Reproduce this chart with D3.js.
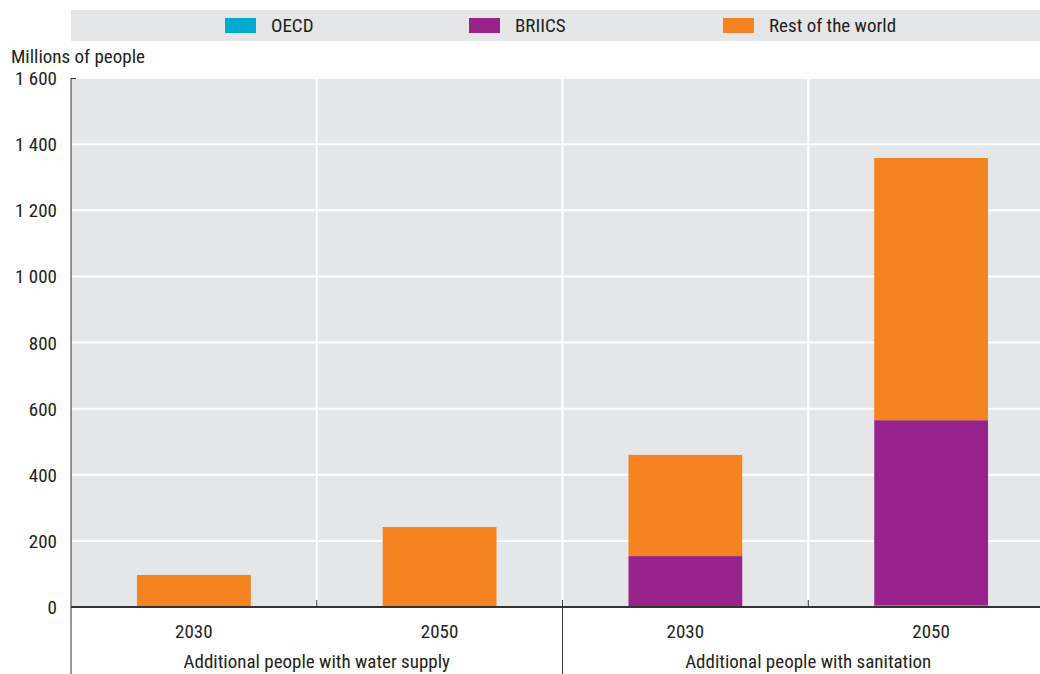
<!DOCTYPE html>
<html><head><meta charset="utf-8">
<script src="https://cdn.jsdelivr.net/npm/d3@7"></script>
<style>body{margin:0;background:#fff;overflow:hidden}svg{display:block}text{font-family:"Liberation Sans Narrow","Arial Narrow","Roboto Condensed","Liberation Sans",sans-serif;fill:#231f20}</style>
</head><body>
<script>
const categories = ["water-2030","water-2050","san-2030","san-2050"];
const yearLabels = ["2030","2050","2030","2050"];
const groupLabels = ["Additional people with water supply","Additional people with sanitation"];
const seriesNames = ["OECD","BRIICS","Rest of the world"];
const oecd = [0,0,0,5];
const briics = [0,0,154,560];
const rest = [97,242,306,793];
const yTicks = [0,200,400,600,800,1000,1200,1400,1600];
const colors = ["#00a9ce","#99238c","#f48320"];

const W=1040,H=674, m={l:71,t:78,b:67};
const FS=19;
const svg=d3.select("body").append("svg").attr("width",W).attr("height",H);
const x=d3.scaleBand().domain(categories).range([m.l,1054]).paddingInner(0).paddingOuter(0);
const y=d3.scaleLinear().domain([0,1600]).range([H-m.b,m.t]);
const fmt=v=>d3.format(",")(v).replace(/,/g," ");

svg.append("rect").attr("x",m.l).attr("y",m.t).attr("width",W-m.l).attr("height",y(0)-m.t).attr("fill","#e5e6e8");
svg.append("rect").attr("x",71).attr("y",10).attr("width",969).attr("height",31).attr("fill","#e5e6e8");
const lx=[225,469,723];
seriesNames.forEach((n,i)=>{
  svg.append("rect").attr("x",lx[i]).attr("y",18).attr("width",31).attr("height",15).attr("fill",colors[i]);
  svg.append("text").attr("x",lx[i]+46).attr("y",32).attr("font-size",FS).text(n);
});
svg.append("g").selectAll("line").data(yTicks.slice(1)).join("line")
  .attr("x1",m.l).attr("x2",W).attr("y1",d=>y(d)).attr("y2",d=>y(d)).attr("stroke","#fff").attr("stroke-width",2);
svg.append("g").selectAll("line").data(categories.slice(1)).join("line")
  .attr("x1",d=>x(d)).attr("x2",d=>x(d)).attr("y1",m.t).attr("y2",y(0)).attr("stroke","#fff").attr("stroke-width",2);
svg.append("g").selectAll("text").data(yTicks).join("text")
  .attr("x",57).attr("y",d=>y(d)+7).attr("text-anchor","end").attr("font-size",FS).text(fmt);
svg.append("text").attr("x",11).attr("y",63).attr("font-size",FS).text("Millions of people");
const data=categories.map((c,i)=>({c,OECD:oecd[i],BRIICS:briics[i],"Rest of the world":rest[i]}));
const stack=d3.stack().keys(seriesNames)(data);
const bw=x.bandwidth()*0.463;
svg.append("g").selectAll("g").data(stack).join("g").attr("fill",(d,i)=>colors[i])
  .selectAll("rect").data(d=>d).join("rect")
  .attr("x",d=>x(d.data.c)+(x.bandwidth()-bw)/2).attr("width",bw)
  .attr("y",d=>y(d[1])).attr("height",d=>y(d[0])-y(d[1]));
svg.append("line").attr("x1",m.l).attr("x2",W).attr("y1",y(0)).attr("y2",y(0)).attr("stroke","#333").attr("stroke-width",2);
svg.append("line").attr("x1",m.l).attr("x2",m.l).attr("y1",m.t).attr("y2",H).attr("stroke","#333").attr("stroke-width",1);
svg.append("line").attr("x1",m.l).attr("x2",m.l+5).attr("y1",m.t+0.5).attr("y2",m.t+0.5).attr("stroke","#333").attr("stroke-width",1);
[1,3].forEach(i=>svg.append("line").attr("x1",x(categories[i])).attr("x2",x(categories[i])).attr("y1",y(0)-7).attr("y2",y(0)).attr("stroke","#333"));
svg.append("line").attr("x1",x(categories[2])).attr("x2",x(categories[2])).attr("y1",y(0)-7).attr("y2",H).attr("stroke","#333");
svg.append("g").selectAll("text").data(categories).join("text")
  .attr("x",d=>x(d)+x.bandwidth()/2).attr("y",638).attr("text-anchor","middle").attr("font-size",FS).text((d,i)=>yearLabels[i]);
groupLabels.forEach((g,i)=>{
  const cx=(x(categories[i*2])+x(categories[i*2+1])+x.bandwidth())/2;
  svg.append("text").attr("x",cx).attr("y",668).attr("text-anchor","middle").attr("font-size",FS).text(g);
});
</script>
</body></html>
